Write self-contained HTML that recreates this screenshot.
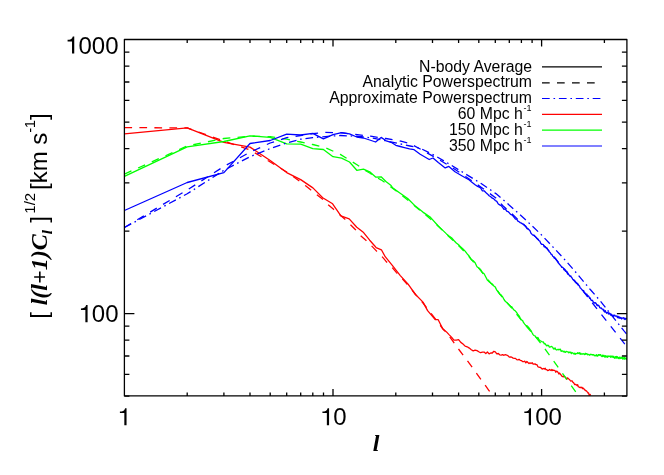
<!DOCTYPE html>
<html><head><meta charset="utf-8"><title>plot</title>
<style>html,body{margin:0;padding:0;background:#fff;}body{width:664px;height:475px;position:relative;overflow:hidden;font-family:"Liberation Sans",sans-serif;}</style></head>
<body>
<svg width="664" height="475" viewBox="0 0 664 475" style="position:absolute;left:0;top:0;will-change:transform;opacity:0.999">
<defs><clipPath id="c"><rect x="124.4" y="39.5" width="502.5" height="356.4"/></clipPath></defs>
<g clip-path="url(#c)" fill="none" stroke-width="1.30" stroke-linejoin="round">
<path d="M124.4,127.6 L187.2,127.9 L223.9,141.0 L250.0,150.0 L270.2,162.0 L286.7,172.0 L300.7,182.0 L305.3,185.6 L310.6,189.8 L316.7,194.7 L322.7,199.2 L328.0,204.5 L333.3,209.1 L339.4,214.4 L344.7,218.9 L350.0,224.2 L355.3,229.5 L360.6,235.6 L365.9,240.2 L371.2,245.5 L376.1,250.6 L382.1,256.7 L385.9,261.2 L392.0,267.3 L396.5,272.6 L400.3,276.5 L407.9,285.0 L415.5,294.5 L423.0,303.0 L430.0,312.0 L437.0,321.0 L443.0,329.0 L449.5,336.4 L457.9,348.2 L471.2,365.9 L488.8,390.3 L492.9,395.9" stroke="#ff0000" stroke-dasharray="7.7 7.3"/>
<path d="M124.4,133.9 L187.2,127.9 L223.9,142.3 L250.0,147.1 L270.2,160.5 L286.7,172.6 L300.7,179.6 L312.9,187.9 L322.7,197.7 L332.6,203.8 L340.9,215.9 L349.2,218.9 L356.8,227.3 L363.6,232.6 L369.7,240.2 L375.0,246.2 L376.1,247.6 L381.4,249.8 L385.2,256.7 L392.7,265.8 L400.3,275.6 L407.9,283.9 L415.5,294.5 L423.0,302.1 L427.6,310.6 L435.2,319.7 L438.2,319.7 L442.7,328.8 L443.9,329.7 L446.5,331.9 L449.0,334.6 L451.5,337.1 L453.9,340.2 L456.3,340.1 L458.6,339.7 L460.8,342.4 L463.0,344.0 L465.1,346.1 L467.2,346.8 L469.3,348.1 L471.3,349.7 L473.2,350.9 L475.1,350.1 L477.0,350.6 L478.8,351.7 L480.6,352.7 L482.4,352.2 L484.1,352.1 L485.8,353.6 L487.4,352.0 L489.1,353.9 L490.7,353.0 L492.3,353.0 L493.8,351.3 L495.3,351.8 L496.8,353.8 L498.3,353.5 L499.7,354.8 L501.2,355.1 L502.6,354.7 L504.0,355.3 L505.3,354.6 L506.7,355.0 L508.0,355.8 L509.3,357.1 L510.6,357.0 L511.8,357.2 L513.1,358.1 L514.3,358.3 L515.5,358.3 L516.7,359.7 L517.9,359.9 L519.1,359.3 L520.2,360.3 L521.4,360.6 L522.5,361.6 L523.6,361.7 L524.7,361.1 L525.8,362.9 L526.9,361.5 L527.9,362.5 L529.0,363.6 L530.0,362.8 L531.0,363.5 L532.1,362.7 L533.1,364.0 L534.0,364.2 L535.0,363.9 L536.0,364.6 L537.0,364.7 L537.9,366.7 L538.8,367.2 L539.8,367.4 L540.7,367.5 L541.6,368.6 L542.5,369.1 L543.4,368.4 L544.3,369.1 L545.2,368.2 L546.0,369.7 L546.9,369.7 L547.7,370.6 L548.6,370.4 L549.4,369.5 L550.2,369.9 L551.1,370.6 L551.9,369.5 L552.7,370.5 L553.5,370.2 L554.3,370.3 L555.0,370.5 L555.8,372.2 L556.6,371.1 L557.4,371.6 L558.1,372.5 L558.9,374.0 L559.6,373.0 L560.4,374.3 L561.1,375.0 L561.8,376.1 L562.5,376.4 L563.3,376.9 L564.0,376.1 L564.7,376.8 L565.4,377.1 L566.1,378.6 L566.8,379.1 L567.4,377.9 L568.1,378.4 L568.8,379.0 L569.5,379.5 L570.1,380.4 L570.8,381.1 L571.4,380.9 L572.1,380.8 L572.7,382.1 L573.4,382.5 L574.0,383.3 L574.6,384.5 L575.3,384.4 L575.9,384.5 L576.5,385.0 L577.1,385.5 L577.7,384.7 L578.3,386.7 L578.9,386.9 L579.5,387.4 L580.1,387.6 L580.7,387.2 L581.3,387.6 L581.9,387.3 L582.5,388.7 L583.0,388.0 L583.6,388.5 L584.2,389.3 L584.7,389.7 L585.3,390.5 L585.9,390.5 L586.4,390.9 L587.0,391.7 L587.5,392.0 L588.1,393.1 L588.6,392.9 L589.1,395.0 L589.7,395.0 L590.2,394.5 L590.6,395.6" stroke="#ff0000"/>
<path d="M124.4,174.1 L187.2,146.0 L223.9,138.5 L250.0,136.2 L270.2,136.7 L286.7,139.2 L300.7,142.0 L312.8,144.5 L325.2,147.6 L340.3,154.4 L357.0,164.7 L363.5,169.5 L369.7,173.0 L375.6,177.0 L381.0,179.8 L386.0,183.2 L392.6,188.3 L400.2,194.0 L407.7,200.0 L415.3,206.5 L422.9,212.6 L430.5,219.0 L438.0,226.0 L445.6,233.5 L453.2,240.5 L460.0,247.0 L465.2,252.5 L472.7,261.0 L480.3,270.0 L487.9,279.7 L495.5,288.5 L503.0,298.0 L510.4,306.5 L517.7,315.5 L525.3,325.0 L532.9,334.0 L537.0,338.5 L543.6,347.1 L578.5,395.6" stroke="#00ff00" stroke-dasharray="7.7 7.3"/>
<path d="M124.4,176.4 L187.2,146.8 L223.9,141.5 L250.0,135.8 L270.2,137.3 L286.7,143.8 L300.7,144.2 L312.8,148.6 L323.4,149.5 L333.0,156.7 L341.6,158.2 L349.5,162.0 L356.8,170.3 L363.5,169.2 L369.7,171.8 L375.6,177.1 L381.1,176.8 L386.2,181.7 L391.1,185.5 L392.6,187.9 L400.2,193.2 L407.7,198.5 L415.3,206.1 L422.9,212.1 L430.5,217.4 L438.0,225.8 L443.9,231.4 L446.5,233.9 L449.0,236.0 L451.5,237.7 L453.9,240.5 L456.3,243.0 L458.6,244.8 L460.8,247.1 L463.0,248.9 L465.1,251.1 L467.2,253.9 L469.3,256.3 L471.3,259.6 L473.2,260.8 L475.1,262.8 L477.0,266.7 L478.8,268.1 L480.6,269.5 L482.4,272.6 L484.1,273.8 L485.8,277.0 L487.4,280.1 L489.1,281.7 L490.7,283.1 L492.3,284.0 L493.8,285.9 L495.3,287.1 L496.8,290.3 L498.3,291.8 L499.7,294.2 L501.2,295.1 L502.6,296.8 L504.0,299.5 L505.3,301.3 L506.7,302.4 L508.0,303.7 L509.3,305.1 L510.6,306.3 L511.8,306.8 L513.1,309.0 L514.3,310.2 L515.5,311.1 L516.7,312.6 L517.9,314.5 L519.1,315.9 L520.2,318.1 L521.4,320.0 L522.5,320.4 L523.6,322.7 L524.7,324.1 L525.8,325.4 L526.9,325.6 L527.9,326.6 L529.0,328.0 L530.0,329.3 L531.0,330.6 L532.1,332.8 L533.1,334.6 L534.0,335.5 L535.0,335.9 L536.0,337.3 L537.0,338.3 L537.9,337.5 L538.8,339.4 L539.8,340.5 L540.7,340.9 L541.6,341.6 L542.5,341.8 L543.4,342.0 L544.3,343.9 L545.2,343.7 L546.0,345.1 L546.9,345.9 L547.7,345.2 L548.6,345.6 L549.4,347.1 L550.2,347.1 L551.1,346.4 L551.9,346.7 L552.7,347.2 L553.5,348.9 L554.3,349.0 L555.0,347.9 L555.8,349.5 L556.6,350.0 L557.4,349.6 L558.1,349.2 L558.9,349.9 L559.6,349.3 L560.4,349.2 L561.1,351.4 L561.8,350.9 L562.5,350.9 L563.3,351.9 L564.0,351.1 L564.7,352.2 L565.4,352.3 L566.1,351.3 L566.8,351.6 L567.4,351.9 L568.1,351.9 L568.8,352.7 L569.5,352.1 L570.1,352.6 L570.8,352.1 L571.4,353.7 L572.1,352.7 L572.7,353.0 L573.4,353.4 L574.0,354.1 L574.6,353.2 L575.3,354.3 L575.9,353.5 L576.5,353.6 L577.1,353.6 L577.7,352.7 L578.3,353.5 L578.9,353.1 L579.5,352.7 L580.1,354.4 L580.7,353.2 L581.3,353.8 L581.9,354.3 L582.5,354.0 L583.0,353.6 L583.6,354.0 L584.2,354.1 L584.7,354.6 L585.3,353.3 L585.9,354.2 L586.4,353.6 L587.0,353.7 L587.5,354.8 L588.1,354.3 L588.6,354.4 L589.1,354.8 L589.7,355.2 L590.2,354.3 L590.7,354.6 L591.3,354.5 L591.8,354.6 L592.3,355.0 L592.8,354.6 L593.3,354.8 L593.8,354.7 L594.3,355.7 L594.8,355.3 L595.4,355.7 L595.9,355.9 L596.3,354.6 L596.8,355.3 L597.3,356.1 L597.8,355.9 L598.3,354.6 L598.8,354.6 L599.3,355.3 L599.7,354.6 L600.2,355.0 L600.7,354.7 L601.2,356.0 L601.6,356.3 L602.1,356.6 L602.6,355.1 L603.0,356.3 L603.5,356.2 L603.9,355.3 L604.4,356.8 L604.8,357.0 L605.3,355.6 L605.7,357.1 L606.2,356.0 L606.6,356.3 L607.1,357.3 L607.5,357.1 L607.9,355.8 L608.4,356.4 L608.8,356.6 L609.2,356.3 L609.7,356.1 L610.1,356.3 L610.5,357.2 L610.9,355.9 L611.4,357.0 L611.8,356.8 L612.2,356.0 L612.6,356.7 L613.0,357.3 L613.4,357.1 L613.8,356.3 L614.3,358.2 L614.7,357.8 L615.1,358.2 L615.5,356.6 L615.9,356.9 L616.3,356.5 L616.7,358.1 L617.1,357.1 L617.4,356.8 L617.8,357.5 L618.2,358.5 L618.6,358.4 L619.0,357.3 L619.4,357.1 L619.8,358.7 L620.2,358.1 L620.5,358.4 L620.9,357.2 L621.3,357.1 L621.7,358.4 L622.0,357.9 L622.4,357.3 L622.8,359.0 L623.1,358.5 L623.5,358.8 L623.9,357.4 L624.2,359.0 L624.6,357.4 L625.0,359.1 L625.3,358.3 L625.7,358.1 L626.0,358.5 L626.4,359.3 L626.8,358.0 L627.0,358.5" stroke="#00ff00"/>
<path d="M124.4,227.5 L187.2,190.0 L223.9,166.5 L250.0,152.2 L270.2,143.0 L286.7,137.7 L300.7,135.5 L312.8,133.7 L325.2,132.4 L340.3,132.7 L355.5,134.4 L370.6,136.2 L385.8,138.5 L400.9,141.2 L410.0,143.5 L420.2,149.0 L435.3,157.5 L450.5,166.5 L465.6,176.5 L480.8,187.0 L495.9,198.0 L502.6,205.5 L510.2,212.2 L517.7,219.3 L525.3,226.2 L532.9,234.0 L540.5,242.0 L548.0,249.8 L555.0,258.0 L560.2,264.5 L567.7,273.0 L575.3,281.5 L582.9,290.8 L590.5,300.5 L597.9,310.0 L621.7,340.1 L626.9,346.9" stroke="#0000ff" stroke-dasharray="7.7 7.3"/>
<path d="M124.4,227.5 L187.2,193.8 L223.9,170.3 L250.0,156.7 L270.2,148.6 L286.7,143.0 L300.7,139.2 L312.8,137.6 L325.2,136.6 L340.3,135.5 L355.5,136.2 L370.6,137.7 L385.8,140.8 L400.9,144.0 L410.0,146.0 L420.2,148.2 L435.3,155.8 L450.5,164.8 L465.6,174.0 L480.8,183.3 L495.9,193.6 L510.2,205.9 L525.3,219.5 L540.5,233.9 L555.6,249.8 L566.2,261.2 L575.3,271.7 L590.5,289.8 L600.0,300.6 L605.8,307.9 L616.2,321.1 L623.8,330.6 L626.9,334.3" stroke="#0000ff" stroke-dasharray="7.7 3.8 1.6 3.8"/>
<path d="M124.4,210.5 L187.2,182.5 L223.9,172.6 L250.0,143.5 L270.2,140.5 L286.7,134.2 L300.7,135.0 L312.8,133.4 L323.4,138.9 L333.0,134.7 L341.6,132.7 L349.5,133.9 L356.8,137.0 L363.5,138.0 L369.7,140.0 L375.6,142.0 L381.1,137.4 L386.2,140.8 L391.1,142.3 L395.8,145.3 L400.2,146.5 L404.4,147.6 L409.5,148.9 L414.1,149.7 L420.2,154.2 L429.2,159.5 L433.0,158.0 L438.3,162.6 L445.2,167.9 L448.9,166.4 L455.0,171.7 L462.6,176.2 L469.3,180.0 L471.3,181.7 L473.2,183.2 L475.1,184.7 L477.0,186.1 L478.8,186.9 L480.6,187.9 L482.4,190.8 L484.1,190.8 L485.8,192.5 L487.4,193.9 L489.1,195.8 L490.7,196.7 L492.3,198.2 L493.8,198.9 L495.3,200.5 L496.8,201.4 L498.3,204.0 L499.7,204.9 L501.2,205.6 L502.6,207.3 L504.0,209.3 L505.3,208.9 L506.7,211.2 L508.0,211.6 L509.3,212.8 L510.6,214.4 L511.8,214.8 L513.1,216.1 L514.3,217.6 L515.5,219.2 L516.7,219.1 L517.9,221.1 L519.1,221.8 L520.2,222.6 L521.4,223.1 L522.5,223.9 L523.6,224.3 L524.7,225.3 L525.8,226.2 L526.9,228.6 L527.9,228.8 L529.0,229.8 L530.0,230.8 L531.0,233.3 L532.1,234.4 L533.1,235.2 L534.0,235.5 L535.0,236.4 L536.0,237.4 L537.0,238.7 L537.9,239.1 L538.8,240.5 L539.8,241.1 L540.7,243.3 L541.6,244.3 L542.5,244.4 L543.4,244.7 L544.3,246.9 L545.2,246.6 L546.0,247.6 L546.9,247.8 L547.7,249.3 L548.6,250.6 L549.4,251.9 L550.2,252.5 L551.1,254.3 L551.9,254.5 L552.7,256.2 L553.5,256.7 L554.3,258.1 L555.0,258.3 L555.8,259.2 L556.6,260.5 L557.4,261.2 L558.1,262.7 L558.9,263.4 L559.6,264.6 L560.4,265.3 L561.1,266.2 L561.8,267.3 L562.5,267.2 L563.3,267.9 L564.0,269.9 L564.7,269.2 L565.4,271.0 L566.1,271.6 L566.8,271.3 L567.4,273.5 L568.1,274.4 L568.8,274.6 L569.5,275.5 L570.1,276.4 L570.8,275.9 L571.4,277.3 L572.1,278.0 L572.7,279.3 L573.4,279.9 L574.0,280.7 L574.6,280.9 L575.3,282.2 L575.9,282.5 L576.5,283.3 L577.1,283.2 L577.7,283.6 L578.3,284.5 L578.9,285.6 L579.5,285.9 L580.1,287.9 L580.7,288.1 L581.3,288.9 L581.9,289.6 L582.5,290.4 L583.0,290.7 L583.6,290.5 L584.2,292.5 L584.7,293.1 L585.3,293.2 L585.9,293.9 L586.4,294.7 L587.0,294.3 L587.5,296.1 L588.1,295.8 L588.6,296.1 L589.1,297.0 L589.7,298.4 L590.2,298.0 L590.7,299.5 L591.3,300.5 L591.8,300.1 L592.3,300.3 L592.8,301.0 L593.3,301.8 L593.8,302.5 L594.3,302.6 L594.8,303.2 L595.4,302.6 L595.9,303.2 L596.3,303.8 L596.8,305.2 L597.3,304.8 L597.8,305.8 L598.3,305.2 L598.8,305.6 L599.3,306.4 L599.7,307.5 L600.2,307.9 L600.7,308.2 L601.2,307.9 L601.6,308.7 L602.1,309.0 L602.6,309.3 L603.0,309.1 L603.5,310.8 L603.9,309.9 L604.4,311.7 L604.8,312.0 L605.3,310.7 L605.7,311.8 L606.2,312.7 L606.6,313.2 L607.1,312.4 L607.5,312.3 L607.9,312.5 L608.4,314.0 L608.8,312.9 L609.2,313.8 L609.7,313.2 L610.1,314.1 L610.5,315.1 L610.9,313.8 L611.4,315.3 L611.8,314.9 L612.2,315.8 L612.6,315.7 L613.0,315.0 L613.4,316.4 L613.8,315.8 L614.3,315.1 L614.7,315.1 L615.1,316.1 L615.5,316.2 L615.9,316.1 L616.3,315.9 L616.7,316.4 L617.1,316.4 L617.4,317.5 L617.8,316.1 L618.2,317.6 L618.6,317.9 L619.0,316.7 L619.4,318.2 L619.8,318.0 L620.2,318.4 L620.5,317.4 L620.9,317.7 L621.3,317.8 L621.7,319.0 L622.0,318.3 L622.4,318.0 L622.8,318.2 L623.1,318.0 L623.5,317.7 L623.9,317.8 L624.2,319.2 L624.6,318.3 L625.0,319.6 L625.3,318.4 L625.7,318.5 L626.0,319.0 L626.4,318.5 L626.8,318.9 L626.9,319.2" stroke="#0000ff"/>
</g>
<g stroke="#000" stroke-width="1.30" fill="none" stroke-linecap="butt" stroke-linejoin="round">
<rect x="124.4" y="39.5" width="502.5" height="356.4"/>
<path d="M187.2,395.9v-3.5 M187.2,39.5v3.5 M223.9,395.9v-3.5 M223.9,39.5v3.5 M250.0,395.9v-3.5 M250.0,39.5v3.5 M270.2,395.9v-3.5 M270.2,39.5v3.5 M286.7,395.9v-3.5 M286.7,39.5v3.5 M300.7,395.9v-3.5 M300.7,39.5v3.5 M312.8,395.9v-3.5 M312.8,39.5v3.5 M323.5,395.9v-3.5 M323.5,39.5v3.5 M333.0,395.9v-7.0 M333.0,39.5v7.0 M395.8,395.9v-3.5 M395.8,39.5v3.5 M432.5,395.9v-3.5 M432.5,39.5v3.5 M458.6,395.9v-3.5 M458.6,39.5v3.5 M478.8,395.9v-3.5 M478.8,39.5v3.5 M495.3,395.9v-3.5 M495.3,39.5v3.5 M509.3,395.9v-3.5 M509.3,39.5v3.5 M521.4,395.9v-3.5 M521.4,39.5v3.5 M532.1,395.9v-3.5 M532.1,39.5v3.5 M541.6,395.9v-7.0 M541.6,39.5v7.0 M604.4,395.9v-3.5 M604.4,39.5v3.5 M124.4,396.1h5.0 M626.9,396.1h-5.0 M124.4,374.4h5.0 M626.9,374.4h-5.0 M124.4,356.0h5.0 M626.9,356.0h-5.0 M124.4,340.2h5.0 M626.9,340.2h-5.0 M124.4,326.1h5.0 M626.9,326.1h-5.0 M124.4,313.6h10.0 M626.9,313.6h-10.0 M124.4,231.1h5.0 M626.9,231.1h-5.0 M124.4,182.9h5.0 M626.9,182.9h-5.0 M124.4,148.6h5.0 M626.9,148.6h-5.0 M124.4,122.1h5.0 M626.9,122.1h-5.0 M124.4,100.4h5.0 M626.9,100.4h-5.0 M124.4,82.0h5.0 M626.9,82.0h-5.0 M124.4,66.2h5.0 M626.9,66.2h-5.0 M124.4,52.1h5.0 M626.9,52.1h-5.0"/>
</g>
<g fill="none" stroke-width="1.2">
<path d="M542,66.9H602" stroke="#000"/>
<path d="M542,82.8H602" stroke="#000" stroke-dasharray="7.7 7.3"/>
<path d="M542,98.5H602" stroke="#0000ff" stroke-dasharray="7.7 3.8 1.6 3.8"/>
<path d="M542,114.4H602" stroke="#ff0000"/>
<path d="M542,130.2H602" stroke="#00ff00"/>
<path d="M542,146.0H602" stroke="#0000ff"/>
</g>
<g font-family="'Liberation Sans', sans-serif" fill="#000">
<path d="M72.02,53.60 L72.02,41.38 L67.59,41.38 L67.59,39.85 C69.96,39.71 72.14,39.08 72.82,36.44 L74.25,36.44 L74.25,53.60 Z"/>
<text x="118.5" y="53.6" font-size="24" text-anchor="end">000</text>
<path d="M85.37,322.20 L85.37,309.98 L80.94,309.98 L80.94,308.45 C83.31,308.31 85.49,307.68 86.16,305.04 L87.59,305.04 L87.59,322.20 Z"/>
<text x="118.5" y="322.2" font-size="24" text-anchor="end">00</text>
<path d="M124.33,425.30 L124.33,413.08 L119.90,413.08 L119.90,411.55 C122.27,411.41 124.45,410.78 125.12,408.14 L126.55,408.14 L126.55,425.30 Z"/>
<path d="M326.85,425.30 L326.85,413.08 L322.42,413.08 L322.42,411.55 C324.80,411.41 326.97,410.78 327.65,408.14 L329.08,408.14 L329.08,425.30 Z"/>
<text x="346.6" y="425.3" font-size="24" text-anchor="end">0</text>
<path d="M528.78,425.30 L528.78,413.08 L524.35,413.08 L524.35,411.55 C526.72,411.41 528.90,410.78 529.58,408.14 L531.01,408.14 L531.01,425.30 Z"/>
<text x="561.9" y="425.3" font-size="24" text-anchor="end">00</text>
<text x="376" y="451.2" font-size="24" text-anchor="middle" font-family="'Liberation Serif', serif" font-style="italic" font-weight="bold">l</text>
<text x="532" y="71.5" font-size="15.8" text-anchor="end">N-body Average</text>
<text x="532" y="87.4" font-size="15.8" text-anchor="end">Analytic Powerspectrum</text>
<text x="532" y="103.1" font-size="15.8" text-anchor="end">Approximate Powerspectrum</text>
<text x="531.6" y="119.0" font-size="15.8" text-anchor="end">60 Mpc h<tspan font-size="9" dy="-7.6" dx="0.8">-1</tspan></text>
<text x="531.6" y="134.8" font-size="15.8" text-anchor="end">150 Mpc h<tspan font-size="9" dy="-7.6" dx="0.8">-1</tspan></text>
<text x="531.6" y="150.6" font-size="15.8" text-anchor="end">350 Mpc h<tspan font-size="9" dy="-7.6" dx="0.8">-1</tspan></text>
<text transform="translate(47.3,318.7) rotate(-90)" font-size="24">[ <tspan font-family="'Liberation Serif', serif" font-style="italic" font-weight="bold">l(l+1)C</tspan><tspan font-family="'Liberation Serif', serif" font-style="italic" font-weight="bold" font-size="15" dy="5">l</tspan><tspan dy="-5" dx="0.8"> ]</tspan><tspan font-size="15" dy="-12.4" dx="2.4">1/2</tspan><tspan dy="12.4" dx="-3.9"> [km s</tspan><tspan font-size="15" dy="-12.4" letter-spacing="-0.6">-1</tspan><tspan dy="12.4" dx="0.6">]</tspan></text>
</g>
</svg>
</body></html>
